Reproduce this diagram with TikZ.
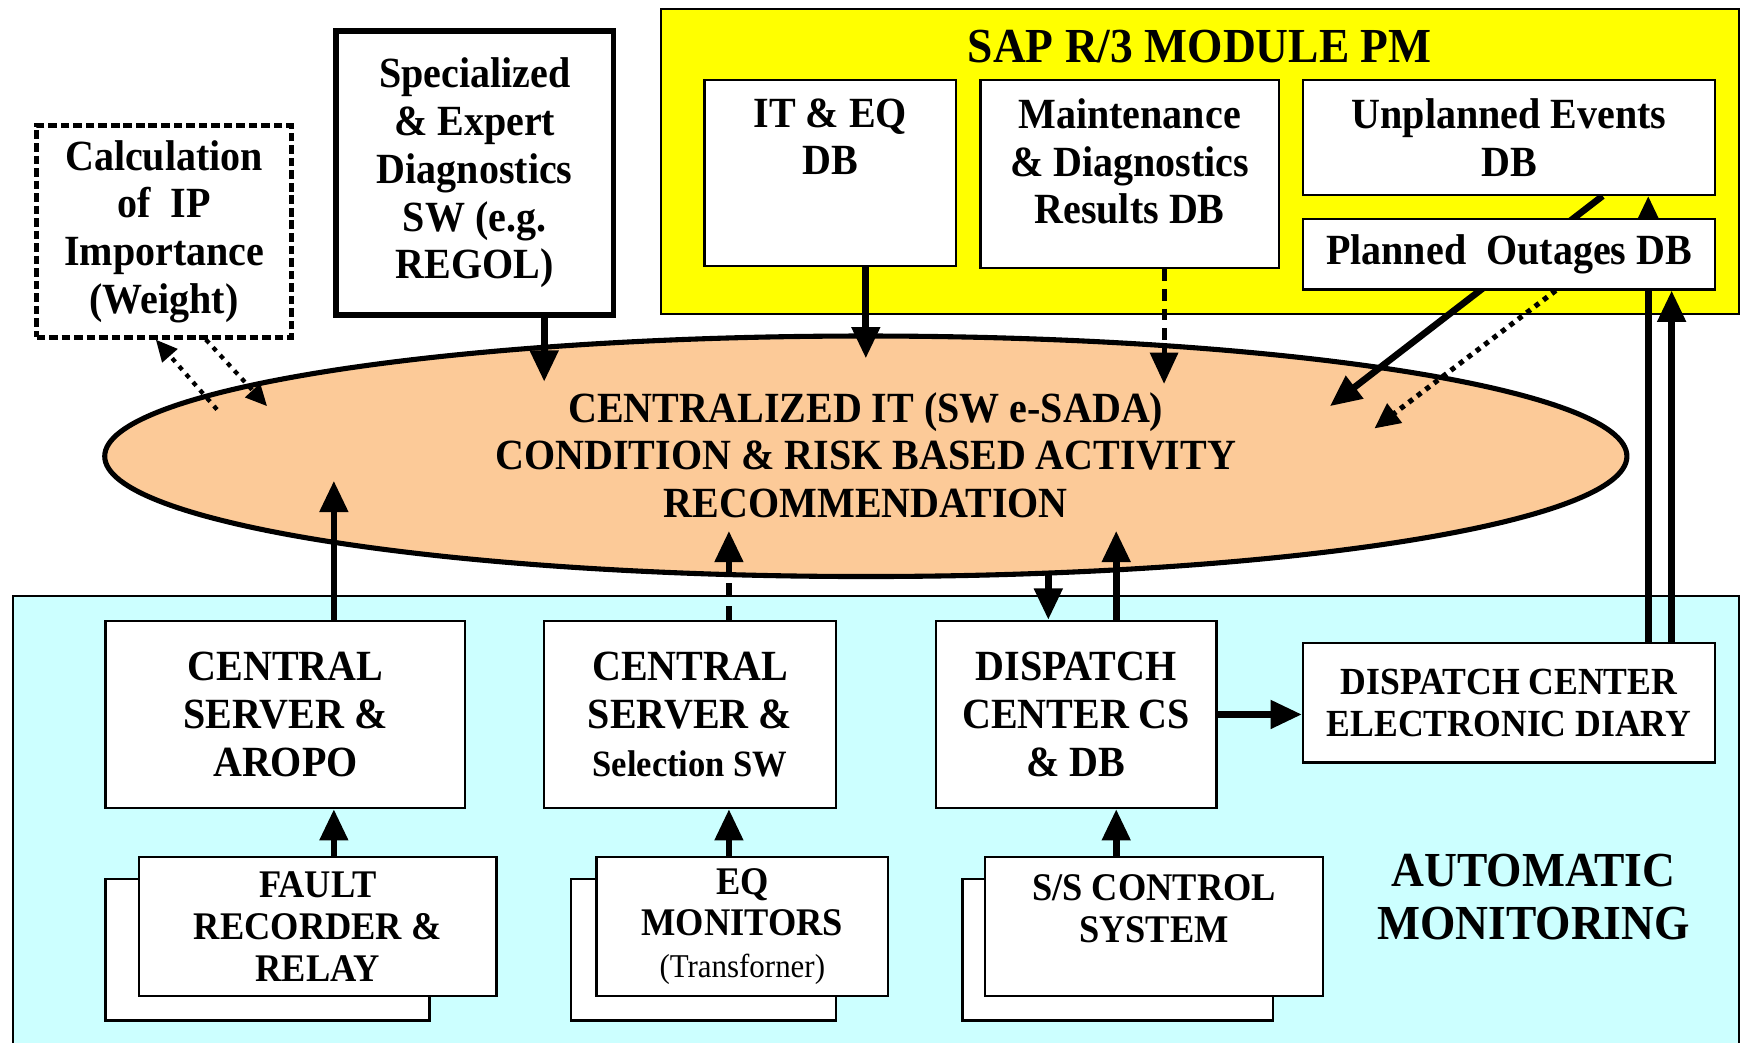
\documentclass[tikz,border=0pt]{standalone}
\usepackage{fontspec}
\setmainfont{Liberation Serif}[FakeStretch=0.93]
\usetikzlibrary{positioning, calc, shapes.geometric, arrows.meta}

\definecolor{sapyellow}{RGB}{255,255,0}
\definecolor{autocyan}{RGB}{204,255,255}
\definecolor{ellpeach}{RGB}{252,202,152}

\pgfdeclarelayer{back}
\pgfdeclarelayer{links}
\pgfsetlayers{back,links,main}

\tikzset{
	box/.style={draw, fill=white, line width=0.6pt, align=center, inner sep=0pt, font=\bfseries\fontsize{11}{12.2}\selectfont},
	smallbox/.style={box, font=\bfseries\fontsize{10}{10.7}\selectfont},
	txt/.style={align=center, inner sep=0pt, font=\bfseries\fontsize{11}{12.2}\selectfont},
	link/.style={line width=1.7pt, -{Triangle[length=8pt,width=7pt]}},
	dashlink/.style={link, line width=1.3pt, dash pattern=on 3pt off 2pt},
	thickdashlink/.style={link, dash pattern=on 3.5pt off 2.5pt},
	squaredotlink/.style={line width=1.3pt, dash pattern=on 1.3pt off 1.4pt, -{Triangle[length=6.5pt,width=6pt]}},
	dotlink/.style={line width=1.1pt, dash pattern=on 1.2pt off 1.5pt, -{Triangle[length=5.5pt,width=5pt]}},
}

\begin{document}
\begin{tikzpicture}[x=0.01cm, y=-0.01cm]
		\useasboundingbox (0,0) rectangle (1568,937);
		
		%Areas
		\begin{pgfonlayer}{back}
		\node[draw, fill=sapyellow, line width=0.5pt, inner sep=0pt, minimum width=9.68cm, minimum height=2.74cm] (sap) at (1078,145) {};
		\node[draw, fill=autocyan, line width=0.5pt, inner sep=0pt, minimum width=15.5cm, minimum height=4.14cm] (automon) at (787,743) {};
		\node[ellipse, draw, fill=ellpeach, line width=1.3pt, inner sep=0pt, minimum width=13.67cm, minimum height=2.16cm] (ell) at (778,410) {};
		\end{pgfonlayer}
		
		%Titles
		\node[txt, font=\bfseries\fontsize{12.5}{14}\selectfont] (saptitle) at (1078,42) {SAP R/3 MODULE PM};
		\node[txt] (elltext) at (778,409) {CENTRALIZED IT (SW e-SADA)\\CONDITION \& RISK BASED ACTIVITY\\RECOMMENDATION};
		\node[txt, font=\bfseries\fontsize{12.5}{13.4}\selectfont] (autotext) at (1378,806) {AUTOMATIC\\MONITORING};
		
		%SAP databases
		\node[box, minimum width=2.26cm, minimum height=1.67cm] (iteq) at (746,155.5) {};
		\node[txt, below=0.17cm of iteq.north] (iteqtext) {IT \& EQ\\DB};
		\node[box, minimum width=2.68cm, minimum height=1.69cm] (maint) at (1015,156.5) {};
		\node[txt, below=0.17cm of maint.north] (mainttext) {Maintenance\\\& Diagnostics\\Results DB};
		\node[box, minimum width=3.7cm, minimum height=1.03cm] (unpl) at (1356,123.5) {Unplanned Events\\DB};
		\node[box, minimum width=3.7cm, minimum height=0.63cm] (plan) at (1356,228.5) {Planned~~Outages DB};
		
		%Upper left boxes
		\node[box, line width=1.4pt, minimum width=2.49cm, minimum height=2.55cm] (spec) at (426.5,155.5) {Specialized\\\& Expert\\Diagnostics\\SW (e.g.\\REGOL)};
		\node[box, line width=1.2pt, dash pattern=on 2.2pt off 1pt, minimum width=2.29cm, minimum height=1.9cm] (ipcalc) at (147.5,208) {Calculation\\of~~IP\\Importance\\(Weight)};
		
		%Monitoring servers
		\node[box, minimum width=3.23cm, minimum height=1.68cm] (aropo) at (256.5,642) {CENTRAL\\SERVER \&\\AROPO};
		\node[box, minimum width=2.62cm, minimum height=1.68cm] (selsw) at (620,642) {CENTRAL\\SERVER \&\\{\fontsize{9.5}{12.2}\selectfont Selection SW}};
		\node[box, minimum width=2.52cm, minimum height=1.68cm] (disp) at (967,642) {DISPATCH\\CENTER CS\\\& DB};
		\node[box, minimum width=3.7cm, minimum height=1.07cm, font=\bfseries\fontsize{9.8}{10.8}\selectfont] (diary) at (1356,631.5) {DISPATCH CENTER\\ELECTRONIC DIARY};
		
		%Field devices
		\node[box, minimum width=2.91cm, minimum height=1.27cm] (faultbk) at (240.5,853.5) {};
		\node[smallbox, minimum width=3.21cm, minimum height=1.25cm] (fault) at (285.5,832.5) {FAULT\\RECORDER \&\\RELAY};
		\node[box, minimum width=2.38cm, minimum height=1.27cm] (eqmonbk) at (632,853.5) {};
		\node[smallbox, minimum width=2.62cm, minimum height=1.25cm] (eqmon) at (667,832.5) {EQ\\MONITORS\\{\mdseries\fontsize{8.5}{10.7}\selectfont (Transforner)}};
		\node[box, minimum width=2.79cm, minimum height=1.27cm] (ssbk) at (1004.5,853.5) {};
		\node[smallbox, minimum width=3.04cm, minimum height=1.25cm] (ss) at (1037,832.5) {};
		\node[txt, font=\bfseries\fontsize{10}{10.7}\selectfont, below=0.16cm of ss.north] (sstext) {S/S CONTROL\\SYSTEM};
		
		%Arrow ends
		\coordinate (specin) at (489,343);
		\coordinate (iteqin) at (778,322);
		\coordinate (maintin) at (1046,345);
		\coordinate (unplin) at (1195,365);
		\coordinate (planin) at (1235,385);
		\coordinate (calcout) at (195,368);
		\coordinate (calcin) at (240,365);
		\coordinate (aropoin) at (300,432);
		\coordinate (selswin) at (655,477);
		\coordinate (dispout) at (942,515);
		\coordinate (dispin) at (1003,477);
		\coordinate (diaryup) at ([xshift=1.25cm]diary.north);
		\coordinate (diaryup2) at ([xshift=1.46cm]diary.north);
		
		%Links
		\begin{pgfonlayer}{links}
		\draw[link] (spec.south -| specin) -- (specin);
		\draw[link] (iteq.south -| iteqin) -- (iteqin);
		\draw[dashlink] (maint.south -| maintin) -- (maintin);
		\draw[link] ([xshift=0.84cm]unpl.south) -- (unplin);
		\draw[squaredotlink] ([xshift=0.42cm]plan.south) -- (planin);
		\draw[dotlink] (calcout) -- ([xshift=-0.075cm]ipcalc.south);
		\draw[dotlink] ([xshift=0.375cm]ipcalc.south) -- (calcin);
		\draw[link] (diaryup) -- (diaryup |- unpl.south);
		\draw[link] (diaryup2) -- (diaryup2 |- plan.south);
		\draw[link] (aropo.north -| aropoin) -- (aropoin);
		\draw[thickdashlink] (selsw.north -| selswin) -- (selswin);
		\draw[link] (dispout) -- (dispout |- disp.north);
		\draw[link] (disp.north -| dispin) -- (dispin);
		\draw[link] (disp.east) -- (disp.east -| diary.west);
		\draw[link] (fault.north -| aropoin) -- (aropo.south -| aropoin);
		\draw[link] (eqmon.north -| selswin) -- (selsw.south -| selswin);
		\draw[link] (ss.north -| dispin) -- (disp.south -| dispin);
		\end{pgfonlayer}
		
\end{tikzpicture}
\end{document}
